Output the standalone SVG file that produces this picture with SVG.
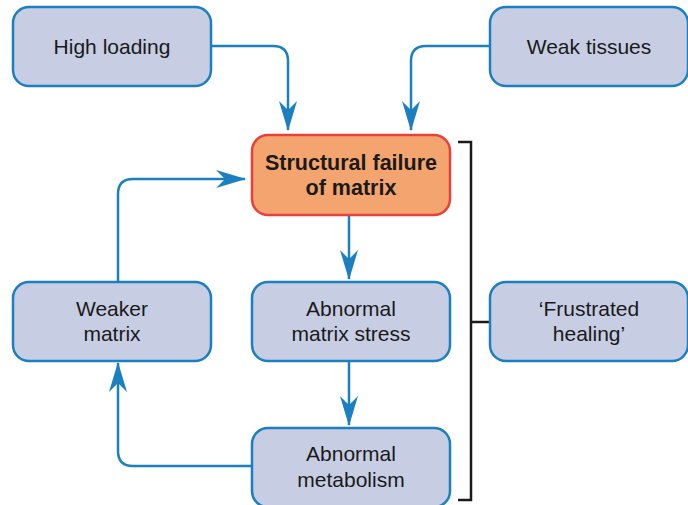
<svg xmlns="http://www.w3.org/2000/svg" width="688" height="505" viewBox="0 0 688 505">
<defs>
<style>
.box{fill:#c7cde3;stroke:#1b7fc0;stroke-width:2.5}
.red{fill:#f4a46e;stroke:#e8413a;stroke-width:2.5}
.t{font-family:"Liberation Sans",Arial,sans-serif;font-size:21px;fill:#1a1a1a;text-anchor:middle}
.b{font-weight:bold;font-size:21.5px}
.c{fill:none;stroke:#1b7fc0;stroke-width:2.5}
.br{fill:none;stroke:#1a1a1a;stroke-width:2.5}
</style>
<marker id="ah" markerWidth="30" markerHeight="22" viewBox="0 0 30 22" refX="29" refY="11" orient="auto" markerUnits="userSpaceOnUse">
<path d="M0,2 L30,11 L0,20 L9,11 Z" fill="#1b7fc0"/>
</marker>
</defs>
<g id="connectors">
<path class="c" d="M211,46 H273 Q288,46 288,61 V130" marker-end="url(#ah)"/>
<path class="c" d="M490,46 H426 Q411,46 411,61 V130" marker-end="url(#ah)"/>
<path class="c" d="M349,215 V279" marker-end="url(#ah)"/>
<path class="c" d="M349,361 V425" marker-end="url(#ah)"/>
<path class="c" d="M252,466 H133 Q118,466 118,451 V363" marker-end="url(#ah)"/>
<path class="c" d="M118,282 V194 Q118,179 133,179 H245" marker-end="url(#ah)"/>
<path class="br" d="M458,142 H471 V500 H458 M471,322 H489"/>
</g>
<g id="high-loading">
<rect class="box" x="13" y="7" width="198" height="79" rx="16"/>
<text class="t" x="112" y="54">High loading</text>
</g>
<g id="weak-tissues">
<rect class="box" x="490" y="7" width="198" height="79" rx="16"/>
<text class="t" x="589" y="54">Weak tissues</text>
</g>
<g id="structural-failure">
<rect class="red" x="252" y="135" width="198" height="80" rx="16"/>
<text class="t b" x="351" y="170">Structural failure</text>
<text class="t b" x="351" y="195">of matrix</text>
</g>
<g id="weaker-matrix">
<rect class="box" x="13" y="282" width="198" height="79" rx="16"/>
<text class="t" x="112" y="316">Weaker</text>
<text class="t" x="112" y="341">matrix</text>
</g>
<g id="abnormal-matrix-stress">
<rect class="box" x="252" y="282" width="198" height="79" rx="16"/>
<text class="t" x="351" y="316">Abnormal</text>
<text class="t" x="351" y="341">matrix stress</text>
</g>
<g id="frustrated-healing">
<rect class="box" x="490" y="282" width="198" height="79" rx="16"/>
<text class="t" x="589" y="316">‘Frustrated</text>
<text class="t" x="589" y="341">healing’</text>
</g>
<g id="abnormal-metabolism">
<rect class="box" x="252" y="428" width="198" height="79" rx="16"/>
<text class="t" x="351" y="461">Abnormal</text>
<text class="t" x="351" y="487">metabolism</text>
</g>
</svg>
